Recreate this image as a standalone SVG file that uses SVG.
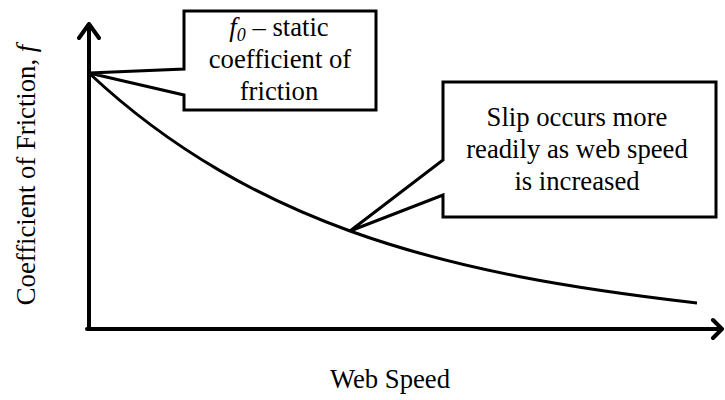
<svg xmlns="http://www.w3.org/2000/svg" width="725" height="400" viewBox="0 0 725 400">
  <style>
    .t { font-family: "Liberation Serif", "Times New Roman", serif; font-size: 26.7px; fill: #000; }
    .mid { text-anchor: middle; }
    .axis { fill: none; stroke: #000; stroke-width: 4; stroke-linecap: round; stroke-linejoin: round; }
    .callout { fill: #fff; stroke: #000; stroke-width: 3; stroke-linejoin: miter; }
    .curve { fill: none; stroke: #000; stroke-width: 3; }
  </style>
  <rect width="725" height="400" fill="#fff"/>
  <g id="axes">
    <path class="axis" d="M89,329 V24 M79,38 L89,24 L99,38"/>
    <path class="axis" d="M87,329 H722 M713,320 L722,329 L713,338"/>
  </g>
  <g id="curve">
    <path class="curve" d="M89,73 C132.3,113.7 175.7,144.8 219,170.1 C262.7,195.6 306.3,215.2 350,231 C406.7,251.5 463.3,265.7 520,276.7 C579,288.2 638,296.1 697,303"/>
  </g>
  <g id="callout-static">
    <path class="callout" d="M184,69 V11 H376 V110 H184 V95 L89,73 Z"/>
    <text class="t mid" x="279" y="36"><tspan font-style="italic">f</tspan><tspan font-style="italic" font-size="18" dy="5">0</tspan><tspan dy="-5"> – static</tspan></text>
    <text class="t mid" x="280" y="68">coefficient of</text>
    <text class="t mid" x="279" y="100">friction</text>
  </g>
  <g id="callout-slip">
    <path class="callout" d="M443,160 V82 H716 V217 H443 V195 L350,231 Z"/>
    <text class="t mid" x="577" y="126">Slip occurs more</text>
    <text class="t mid" x="577" y="158">readily as web speed</text>
    <text class="t mid" x="577" y="190">is increased</text>
  </g>
  <g id="labels">
    <text class="t mid" x="390" y="388">Web Speed</text>
    <text class="t mid" transform="translate(35,175) rotate(-90)" x="0" y="0">Coefficient of Friction, <tspan font-style="italic">f</tspan></text>
  </g>
</svg>
